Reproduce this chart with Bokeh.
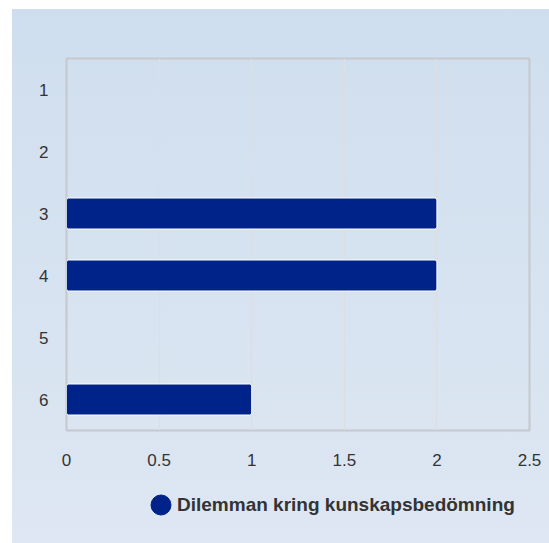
from bokeh.plotting import figure
from bokeh.layouts import column
from bokeh.models import FactorRange, Range1d, Legend, LegendItem, ColumnDataSource, FixedTicker
from bokeh.embed import file_html
from bokeh.resources import INLINE

categories = ["1", "2", "3", "4", "5", "6"]
values = [0, 0, 2, 2, 0, 1]
series_name = "Dilemman kring kunskapsbedömning"
x_ticks = [0, 0.5, 1, 1.5, 2, 2.5]
x_tick_labels = ["0", "0.5", "1", "1.5", "2", "2.5"]

BAR = "#00238a"
TXT = "#333333"

cats_nz = [c for c, v in zip(categories, values) if v != 0]
vals_nz = [v for v in values if v != 0]
src = ColumnDataSource(data=dict(cat=cats_nz, val=vals_nz, mid=[v / 2 for v in vals_nz]))

# ---- main chart ----
p = figure(width=537, height=469, output_backend="svg", toolbar_location=None,
           y_range=FactorRange(factors=list(reversed(categories))),
           x_range=Range1d(x_ticks[0], x_ticks[-1]),
           min_border_left=54, min_border_right=20, min_border_top=49, min_border_bottom=48)
p.styles = {"background": "linear-gradient(to bottom, #cfdeee 0%, #dce6f2 100%)"}
p.border_fill_alpha = 0
p.background_fill_alpha = 0
p.outline_line_color = "#c5c8cc"
p.outline_line_width = 2

p.hbar(y="cat", right="val", left=0, height=0.5, source=src,
       fill_color=BAR, line_color="white", line_width=1, border_radius=2)

p.xaxis.ticker = FixedTicker(ticks=x_ticks)
p.xaxis.major_label_overrides = {t: l for t, l in zip(x_ticks, x_tick_labels)}
for ax in (p.xaxis, p.yaxis):
    ax.axis_line_color = None
    ax.major_tick_line_color = None
    ax.minor_tick_line_color = None
    ax.major_tick_out = 0
    ax.major_tick_in = 0
    ax.major_label_text_font = "Liberation Sans"
    ax.major_label_text_font_size = "17px"
    ax.major_label_text_color = TXT
p.xaxis.major_label_standoff = 23
p.yaxis.major_label_standoff = 18

p.ygrid.grid_line_color = None
p.xgrid.grid_line_color = "#dcdee2"
p.xgrid.grid_line_width = 1.5

# ---- legend strip ----
p2 = figure(width=537, height=65, output_backend="svg", toolbar_location=None,
            x_axis_location=None, y_axis_location=None,
            x_range=Range1d(10, 11), y_range=FactorRange(factors=list(reversed(categories))),
            min_border=0, min_border_left=0, min_border_right=0,
            min_border_top=0, min_border_bottom=0)
p2.styles = {"background": "linear-gradient(to bottom, #dce6f2 0%, #dee7f3 100%)"}
p2.border_fill_alpha = 0
p2.background_fill_alpha = 0
p2.outline_line_color = None
p2.grid.grid_line_color = None

key_r = p2.ellipse(x="mid", y="cat", width=20, height=20, width_units="screen",
                   height_units="screen", source=src, fill_color=BAR, line_color=BAR)

legend = Legend(items=[LegendItem(label=series_name, renderers=[key_r], index=0)],
                location=(82, 26), orientation="horizontal",
                glyph_width=25, glyph_height=25, label_standoff=4,
                padding=0, margin=0, border_line_color=None, background_fill_alpha=0,
                label_text_font="Liberation Sans", label_text_font_size="19px",
                label_text_font_style="bold", label_text_color=TXT)
p2.add_layout(legend, "center")

layout = column(p, p2, spacing=0)
layout.margin = (9, 0, 0, 12)

open("out.html", "w").write(file_html(layout, INLINE))
